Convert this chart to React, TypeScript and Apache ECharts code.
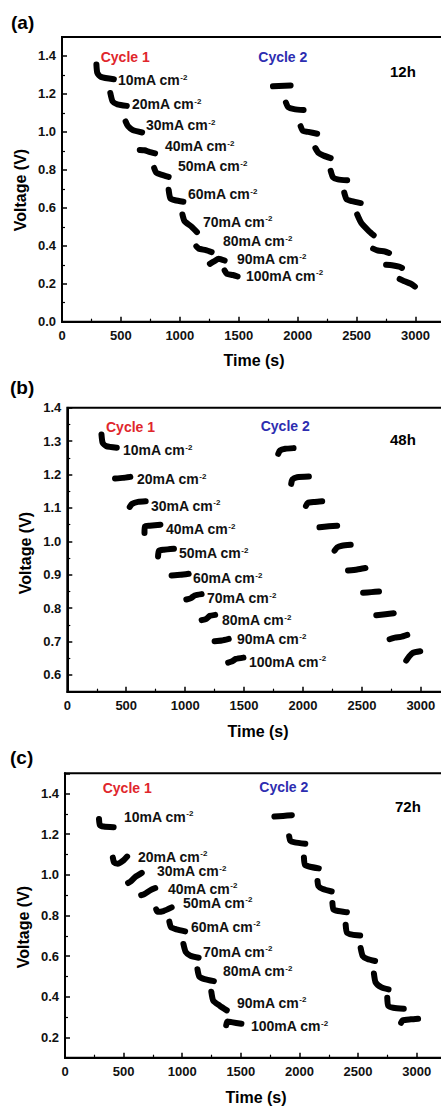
import React, { useEffect, useRef } from "react";
import * as echarts from "echarts";

type Pt = [number, number];

// ---- data: each cycle is a list of current steps, each step a list of [time (s), voltage (V)] ----
const currents = [10, 20, 30, 40, 50, 60, 70, 80, 90, 100];
const xTickValues = [0, 500, 1000, 1500, 2000, 2500, 3000];
const panelTags = ["(a)", "(b)", "(c)"];
const panelHours = ["12h", "48h", "72h"];

const a12hCycle1: Pt[][] = [
  [[292, 1.355], [300, 1.31], [330, 1.29], [440, 1.277]],
  [[410, 1.205], [430, 1.16], [470, 1.145], [550, 1.137]],
  [[540, 1.055], [560, 1.03], [600, 1.01], [680, 0.997]],
  [[660, 0.905], [700, 0.903], [740, 0.895], [790, 0.887]],
  [[782, 0.81], [800, 0.785], [840, 0.775], [905, 0.763]],
  [[905, 0.695], [920, 0.65], [960, 0.64], [1030, 0.632]],
  [[1022, 0.565], [1040, 0.53], [1100, 0.5], [1145, 0.472]],
  [[1140, 0.397], [1160, 0.385], [1220, 0.377], [1270, 0.367]],
  [[1255, 0.305], [1290, 0.318], [1330, 0.332], [1380, 0.322]],
  [[1380, 0.27], [1400, 0.252], [1450, 0.246], [1490, 0.238]],
];
const a12hCycle2: Pt[][] = [
  [[1790, 1.24], [1940, 1.245]],
  [[1900, 1.155], [1920, 1.13], [1970, 1.12], [2050, 1.115]],
  [[2025, 1.03], [2045, 1.005], [2090, 1.0], [2165, 0.99]],
  [[2150, 0.915], [2175, 0.89], [2220, 0.875], [2280, 0.862]],
  [[2280, 0.795], [2300, 0.76], [2340, 0.75], [2420, 0.745]],
  [[2395, 0.68], [2415, 0.645], [2460, 0.635], [2535, 0.625]],
  [[2505, 0.565], [2540, 0.52], [2600, 0.48], [2645, 0.455]],
  [[2640, 0.385], [2680, 0.375], [2740, 0.37], [2775, 0.362]],
  [[2750, 0.3], [2800, 0.297], [2860, 0.29], [2885, 0.283]],
  [[2865, 0.225], [2900, 0.215], [2960, 0.2], [2995, 0.185]],
];
const b48hCycle1: Pt[][] = [
  [[290, 1.32], [300, 1.295], [330, 1.285], [420, 1.28]],
  [[405, 1.188], [470, 1.19], [535, 1.193]],
  [[530, 1.103], [550, 1.112], [600, 1.118], [665, 1.12]],
  [[655, 1.025], [660, 1.045], [700, 1.047], [790, 1.05]],
  [[770, 0.955], [778, 0.972], [820, 0.975], [905, 0.978]],
  [[885, 0.898], [960, 0.9], [1030, 0.903]],
  [[1010, 0.826], [1050, 0.83], [1080, 0.838], [1140, 0.842]],
  [[1140, 0.764], [1180, 0.768], [1210, 0.777], [1255, 0.78]],
  [[1250, 0.701], [1310, 0.703], [1370, 0.708]],
  [[1365, 0.637], [1400, 0.641], [1430, 0.648], [1495, 0.652]],
];
const b48hCycle2: Pt[][] = [
  [[1790, 1.262], [1805, 1.272], [1850, 1.277], [1920, 1.279]],
  [[1900, 1.172], [1910, 1.185], [1950, 1.192], [2050, 1.194]],
  [[2025, 1.106], [2040, 1.115], [2100, 1.118], [2163, 1.12]],
  [[2140, 1.042], [2220, 1.045], [2290, 1.047]],
  [[2268, 0.972], [2290, 0.982], [2330, 0.987], [2405, 0.99]],
  [[2382, 0.913], [2460, 0.916], [2530, 0.92]],
  [[2510, 0.846], [2580, 0.848], [2645, 0.85]],
  [[2622, 0.779], [2700, 0.782], [2770, 0.785]],
  [[2735, 0.707], [2780, 0.712], [2830, 0.714], [2885, 0.72]],
  [[2876, 0.643], [2900, 0.655], [2930, 0.666], [2995, 0.671]],
];
const c72hCycle1: Pt[][] = [
  [[290, 1.275], [298, 1.245], [330, 1.238], [415, 1.235]],
  [[408, 1.085], [420, 1.06], [450, 1.055], [500, 1.072], [530, 1.09]],
  [[538, 0.96], [560, 0.967], [600, 0.99], [655, 1.01]],
  [[650, 0.9], [680, 0.907], [730, 0.925], [770, 0.935]],
  [[778, 0.83], [790, 0.818], [840, 0.822], [910, 0.84]],
  [[890, 0.77], [905, 0.742], [950, 0.732], [1025, 0.722]],
  [[1010, 0.66], [1030, 0.62], [1070, 0.602], [1140, 0.592]],
  [[1130, 0.535], [1145, 0.5], [1190, 0.487], [1270, 0.477]],
  [[1248, 0.425], [1265, 0.38], [1320, 0.356], [1380, 0.333]],
  [[1375, 0.26], [1385, 0.278], [1420, 0.275], [1505, 0.267]],
];
const c72hCycle2: Pt[][] = [
  [[1786, 1.287], [1860, 1.29], [1935, 1.294]],
  [[1912, 1.19], [1922, 1.168], [1960, 1.16], [2050, 1.153]],
  [[2038, 1.085], [2047, 1.05], [2090, 1.04], [2165, 1.032]],
  [[2154, 0.97], [2162, 0.945], [2200, 0.93], [2275, 0.918]],
  [[2281, 0.862], [2290, 0.83], [2330, 0.822], [2405, 0.816]],
  [[2394, 0.755], [2405, 0.716], [2450, 0.706], [2518, 0.702]],
  [[2522, 0.64], [2540, 0.6], [2580, 0.586], [2645, 0.576]],
  [[2635, 0.515], [2650, 0.47], [2700, 0.446], [2760, 0.436]],
  [[2749, 0.395], [2757, 0.356], [2800, 0.346], [2890, 0.341]],
  [[2867, 0.272], [2880, 0.284], [2950, 0.289], [3012, 0.292]],
];

const cycles = [
  [a12hCycle1, a12hCycle2],
  [b48hCycle1, b48hCycle2],
  [c72hCycle1, c72hCycle2],
];

// ---- layout (pixels) ----
const FONT = '"Liberation Sans", Arial, Helvetica, sans-serif';
const layouts = [
  { left: 62, top: 37, width: 383, height: 284.7, yMin: 0, yMax: 1.5, interval: 0.2, split: 7 },
  { left: 67.3, top: 407.7, width: 383, height: 284, yMin: 0.55, yMax: 1.4, interval: 0, split: 8 },
  { left: 65, top: 773.3, width: 381, height: 284.4, yMin: 0.1, yMax: 1.5, interval: 0, split: 7 },
];
const tagPos = [[11, 22], [10, 387], [10, 757]];
const hourPos = [[390, 71.7], [390, 439], [395, 806]];
const cycle1Pos = [[100.7, 57.3], [106, 426.7], [102.7, 788.3]];
const cycle2Pos = [[258.3, 57], [260.7, 425.7], [259.3, 787]];
const timeTitlePos = [[254, 360], [258, 731.7], [256, 1097]];
const voltTitlePos = [[20, 190], [25, 553], [23, 927]];
const annotPos = [
  [[118, 80], [132, 104], [146, 125], [165, 146], [178, 166], [188, 194], [203, 221.7], [223, 241], [237, 259.3], [246, 275.7]],
  [[123, 450], [137, 479], [151, 505.7], [166, 529.3], [179, 553], [193, 578.3], [207, 598.3], [222, 620], [237, 639.3], [249, 661.7]],
  [[124, 816.7], [138, 856.7], [157, 871.2], [168, 888.5], [183, 902.5], [191, 926.7], [203, 951.7], [223, 971], [237, 1002.7], [251, 1026]],
];

function buildOption() {
  const grid: any[] = [];
  const xAxis: any[] = [];
  const yAxis: any[] = [];
  const series: any[] = [];
  const graphic: any[] = [];

  layouts.forEach((L, i) => {
    grid.push({
      left: L.left, top: L.top, width: L.width, height: L.height,
      show: true, borderColor: "#000", borderWidth: 2, backgroundColor: "transparent",
    });
    const common = {
      gridIndex: i,
      axisLine: { show: true, onZero: false, lineStyle: { color: "#000", width: 2 } },
      axisTick: { show: true, inside: true, length: 5, lineStyle: { color: "#000", width: 1.5 } },
      minorTick: { show: true, splitNumber: 2, length: 3, lineStyle: { color: "#000", width: 1.2 } },
      splitLine: { show: false },
      minorSplitLine: { show: false },
    };
    xAxis.push({
      ...common,
      type: "value",
      min: 0,
      max: 3250,
      interval: 500,
      axisLabel: {
        color: "#111", fontWeight: "bold", fontSize: 13, fontFamily: FONT, margin: 7,
        showMaxLabel: false,
        formatter: (v: number) => (xTickValues.indexOf(v) >= 0 ? String(v) : ""),
      },
    });
    const y: any = {
      ...common,
      type: "value",
      min: L.yMin,
      max: L.yMax,
      axisLabel: {
        color: "#111", fontWeight: "bold", fontSize: 13, fontFamily: FONT, margin: 6,
        showMaxLabel: i !== 1 ? false : true,
        showMinLabel: i === 0 ? true : false,
        formatter: (v: number) => v.toFixed(1),
      },
    };
    if (L.interval) y.interval = L.interval;
    else y.splitNumber = L.split;
    yAxis.push(y);

    cycles[i].forEach((cyc) => {
      cyc.forEach((seg) => {
        series.push({
          type: "line",
          xAxisIndex: i,
          yAxisIndex: i,
          data: seg,
          symbol: "none",
          showSymbol: false,
          silent: true,
          smooth: 0.2,
          lineStyle: { color: "#000", width: 6, cap: "round", join: "round" },
          z: 3,
        });
      });
    });

    graphic.push({
      type: "text", x: tagPos[i][0], y: tagPos[i][1],
      style: { text: panelTags[i], font: `bold 19px ${FONT}`, fill: "#000", verticalAlign: "middle", align: "left" },
    });
    graphic.push({
      type: "text", x: hourPos[i][0], y: hourPos[i][1],
      style: { text: panelHours[i], font: `bold 15px ${FONT}`, fill: "#000", verticalAlign: "middle", align: "left" },
    });
    graphic.push({
      type: "text", x: cycle1Pos[i][0], y: cycle1Pos[i][1],
      style: { text: "Cycle 1", font: `bold 14px ${FONT}`, fill: "#e0262c", verticalAlign: "middle", align: "left" },
    });
    graphic.push({
      type: "text", x: cycle2Pos[i][0], y: cycle2Pos[i][1],
      style: { text: "Cycle 2", font: `bold 14px ${FONT}`, fill: "#2d2db0", verticalAlign: "middle", align: "left" },
    });
    graphic.push({
      type: "text", x: timeTitlePos[i][0], y: timeTitlePos[i][1],
      style: { text: "Time (s)", font: `bold 16px ${FONT}`, fill: "#000", verticalAlign: "middle", align: "center" },
    });
    graphic.push({
      type: "text", x: voltTitlePos[i][0], y: voltTitlePos[i][1], rotation: Math.PI / 2,
      style: { text: "Voltage (V)", font: `bold 16px ${FONT}`, fill: "#000", verticalAlign: "middle", align: "center" },
    });
    currents.forEach((c, k) => {
      graphic.push({
        type: "text", x: annotPos[i][k][0], y: annotPos[i][k][1],
        style: {
          text: `{n|${c}mA cm}{s|-2}`,
          verticalAlign: "middle",
          align: "left",
          rich: {
            n: { fontSize: 14, fontWeight: "bold", fontFamily: FONT, fill: "#111", lineHeight: 14 },
            s: { fontSize: 8, fontWeight: "bold", fontFamily: FONT, fill: "#111", lineHeight: 6, verticalAlign: "top" },
          },
        },
      });
    });
  });

  return {
    animation: false,
    backgroundColor: "#fff",
    grid,
    xAxis,
    yAxis,
    series,
    graphic,
  };
}

export default function App() {
  const ref = useRef<HTMLDivElement>(null);
  useEffect(() => {
    if (!ref.current) return;
    const chart = echarts.init(ref.current, undefined, { renderer: "svg" });
    chart.setOption(buildOption() as any);
    return () => chart.dispose();
  }, []);
  return (
    <div style={{ position: "fixed", left: 0, top: 0, width: 441, height: 1109, overflow: "hidden", background: "#fff" }}>
      <div ref={ref} style={{ width: 470, height: 1109 }} />
    </div>
  );
}
